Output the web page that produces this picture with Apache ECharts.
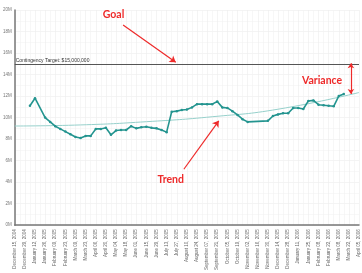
<!DOCTYPE html>
<html>
<head>
<meta charset="utf-8">
<script src="https://cdn.jsdelivr.net/npm/echarts@6/dist/echarts.min.js"></script>
<style>
  html, body { margin: 0; padding: 0; background: #fff; }
  #chart { width: 362px; height: 273px; }
</style>
</head>
<body>
<div id="chart"></div>
<script>
'use strict';

// biweekly tick labels, weekly data (index 0 = December 15, 2004)
let tickLabels = [
  'December 15, 2004', 'December 29, 2004', 'January 12, 2005', 'January 26, 2005',
  'February 09, 2005', 'February 23, 2005', 'March 09, 2005', 'March 23, 2005',
  'April 06, 2005', 'April 20, 2005', 'May 04, 2005', 'May 18, 2005',
  'June 01, 2005', 'June 15, 2005', 'June 29, 2005', 'July 13, 2005',
  'July 27, 2005', 'August 10, 2005', 'August 24, 2005', 'September 07, 2005',
  'September 21, 2005', 'October 05, 2005', 'October 19, 2005', 'November 02, 2005',
  'November 16, 2005', 'November 30, 2005', 'December 14, 2005', 'December 28, 2005',
  'January 11, 2006', 'January 25, 2006', 'February 08, 2006', 'February 22, 2006',
  'March 08, 2006', 'March 22, 2006', 'April 05, 2006'
];

// weekly values in $M (null = no reading that week)
let weeklyValues = [
  null, null, null, 11.1, 11.8, null, 10.0, 9.6, 9.2, 8.95,
  8.7, 8.45, 8.2, 8.1, 8.3, 8.3, 8.95, 8.95, 9.05, 8.4,
  8.8, 8.85, 8.85, 9.2, 9.0, 9.1, 9.15, 9.05, 9.0, 8.85,
  8.65, 10.55, 10.6, 10.7, 10.75, 10.95, 11.25, 11.25, 11.25, 11.25,
  11.5, 10.95, 10.9, 10.6, 10.25, 9.85, 9.6, null, null, null,
  9.7, 10.15, 10.3, 10.4, 10.4, 10.9, 10.9, 10.8, 11.55, 11.6,
  11.2, 11.15, 11.1, 11.05, 12.0, 12.2, null, null, null
];

let trendWeeks = [0, 13, 26, 39, 52, 68];
let trendValues = [9.22, 9.32, 9.62, 10.08, 10.78, 12.33];

let goalValue = 15;
let goalLabel = 'Contingency Target: $15,000,000';

let red = '#ee2a2a';
let teal = '#23948f';

let lineData = weeklyValues.map((v, i) => [i, v]);
let trendData = trendWeeks.map((w, i) => [w, trendValues[i]]);

let annoFont = { color: red, fontSize: 10.5, fontWeight: 'bold', fontFamily: 'Lato' };

var myChart = echarts.init(document.getElementById('chart'), null, { renderer: 'canvas' });

myChart.setOption({
  animation: false,
  backgroundColor: '#fff',
  grid: { left: 13, right: 3, top: 10, bottom: 44, containLabel: false },
  xAxis: {
    type: 'value',
    min: 0,
    max: 68,
    interval: 2,
    axisLine: { show: true, lineStyle: { color: '#777', width: 1.5 } },
    axisTick: { show: false },
    axisLabel: {
      rotate: 90,
      fontSize: 4.5,
      color: '#666',
      margin: 4,
      fontFamily: 'Liberation Sans',
      formatter: v => tickLabels[v / 2] || ''
    },
    splitLine: { show: true, lineStyle: { color: '#ececec', width: 0.6 } },
    minorTick: { show: false, splitNumber: 2 },
    minorSplitLine: { show: true, lineStyle: { color: '#f1f1f1', width: 0.6 } }
  },
  yAxis: {
    type: 'value',
    min: 0,
    max: 20,
    interval: 2,
    axisLine: { show: true, lineStyle: { color: '#777', width: 1.5 } },
    axisTick: { show: false },
    axisLabel: {
      fontSize: 4.5,
      color: '#777',
      margin: 3,
      fontFamily: 'Liberation Sans',
      formatter: v => v + 'M'
    },
    splitLine: { show: true, lineStyle: { color: '#ececec', width: 0.6 } },
    minorTick: { show: false, splitNumber: 2 },
    minorSplitLine: { show: true, lineStyle: { color: '#f4f4f4', width: 0.6 } }
  },
  series: [
    {
      type: 'line',
      name: 'Trend',
      data: trendData,
      smooth: true,
      symbol: 'none',
      lineStyle: { color: '#96d0cb', width: 1 },
      z: 2
    },
    {
      type: 'line',
      name: 'Revenue',
      data: lineData,
      connectNulls: true,
      symbol: 'circle',
      symbolSize: 2.5,
      itemStyle: { color: teal },
      lineStyle: { color: teal, width: 1.6 },
      z: 3,
      markLine: {
        silent: true,
        symbol: 'none',
        lineStyle: { color: '#555', width: 1, type: 'solid' },
        label: {
          position: 'insideStartTop',
          formatter: goalLabel,
          fontSize: 5,
          color: '#333',
          distance: [1, 1],
          fontFamily: 'Liberation Sans'
        },
        data: [{ yAxis: goalValue }]
      }
    },
    {
      type: 'line',
      name: 'Arrows',
      data: [],
      markLine: {
        silent: true,
        symbol: ['none', 'arrow'],
        symbolSize: 6,
        lineStyle: { color: red, width: 1.2, type: 'solid' },
        label: { show: false },
        data: [
          [{ coord: [21.4, 18.6] }, { coord: [31.8, 15.15] }],
          [{ coord: [33.4, 5.2] }, { coord: [40.3, 9.7] }]
        ]
      },
      markPoint: {
        silent: true,
        symbol: 'circle',
        symbolSize: 0,
        label: Object.assign({ show: true, position: 'inside' }, annoFont),
        data: [
          { coord: [19.5, 19.55], value: 'Goal' },
          { coord: [30.8, 4.2], value: 'Trend' },
          { coord: [60.7, 13.4], value: 'Variance' }
        ]
      }
    },
    {
      type: 'line',
      name: 'Variance',
      data: [],
      markLine: {
        silent: true,
        symbol: ['arrow', 'arrow'],
        symbolSize: 5,
        lineStyle: { color: red, width: 1.2, type: 'solid' },
        label: { show: false },
        data: [
          [{ coord: [66.4, 12.2] }, { coord: [66.4, 15.05] }]
        ]
      }
    }
  ]
});
</script>
</body>
</html>
